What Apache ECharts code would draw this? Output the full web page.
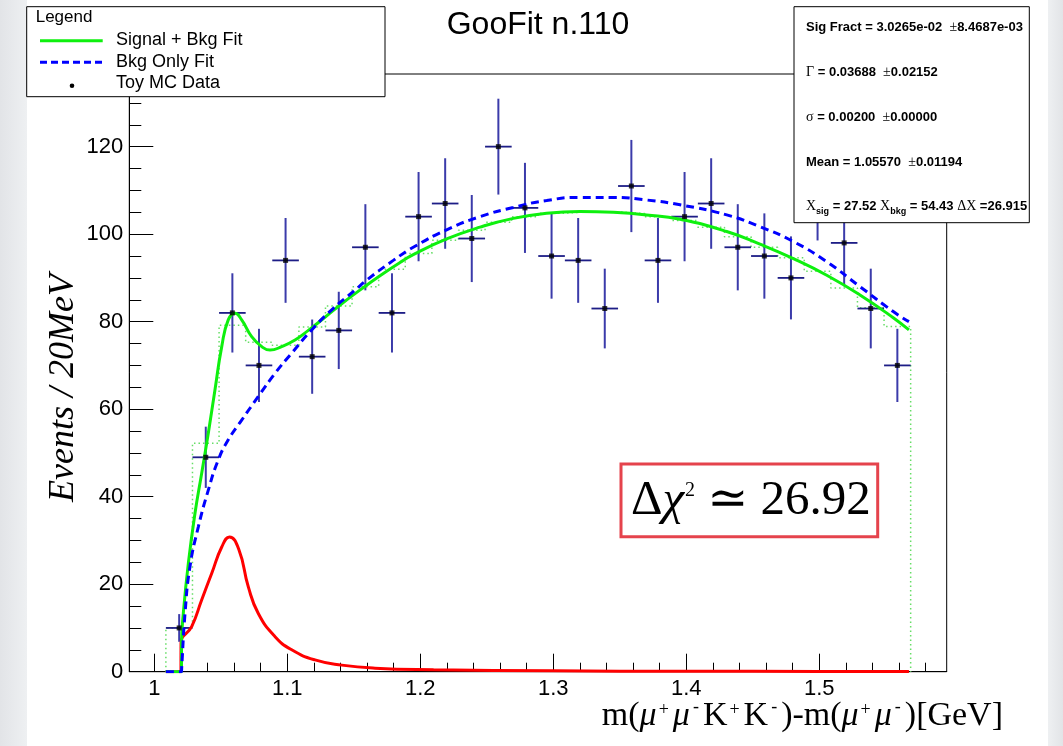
<!DOCTYPE html>
<html>
<head>
<meta charset="utf-8">
<script src="https://cdn.jsdelivr.net/npm/echarts@6/dist/echarts.min.js"></script>
<style>
  html, body { margin: 0; padding: 0; background: #fff; }
  #chart { width: 1063px; height: 746px; }
</style>
</head>
<body>
<div id="chart"></div>
<script>
// Toy MC sample: bin centres (GeV) and events per 20 MeV bin
const binCenters = [1.0187, 1.0387, 1.0587, 1.0787, 1.0987, 1.1187, 1.1387, 1.1587, 1.1787, 1.1987,
                    1.2187, 1.2387, 1.2587, 1.2787, 1.2987, 1.3187, 1.3387, 1.3587, 1.3787, 1.3987,
                    1.4187, 1.4387, 1.4587, 1.4787, 1.4987, 1.5187, 1.5387, 1.5587];
const counts = [10, 49, 82, 70, 94, 72, 78, 97, 82, 104, 107, 99, 120, 106, 95, 94, 83, 111, 94, 104,
                107, 97, 95, 90, 109, 98, 83, 70];
const binWidth = 0.02;

// signal + background fit integrated per bin (dotted histogram)
const fitHist = [10, 52.2, 79.2, 75.3, 74.6, 78.8, 83.6, 88, 92, 95.6, 98.6, 100.9, 102.7, 104,
                 104.8, 105.1, 105.1, 104.7, 104, 103.1, 101.6, 99.4, 97, 94.6, 91.5, 87.7, 83.2, 78.9];

// fitted curves, [mass (GeV), events / 20 MeV]
const sigBkgFit = [[1.0087, 0], [1.0204, 0], [1.0205, 6.6], [1.0218, 13.3], [1.0256, 24.8], [1.0306, 36.2],
  [1.0356, 45.3], [1.0406, 54.5], [1.0456, 64.4], [1.0507, 74.3], [1.0556, 80.4], [1.0607, 81.9],
  [1.0657, 80.4], [1.0732, 76.6], [1.0808, 74.3], [1.0870, 73.5], [1.0958, 74.3], [1.1058, 75.8],
  [1.1158, 78.0], [1.1283, 81.0], [1.1409, 84.1], [1.1559, 87.5], [1.1697, 90.5], [1.1847, 93.5],
  [1.1947, 95.3], [1.2198, 98.9], [1.2449, 101.6], [1.2699, 103.6], [1.2950, 104.8], [1.3201, 105.2],
  [1.3451, 105.0], [1.3702, 104.4], [1.3953, 103.4], [1.4304, 100.6], [1.4554, 97.7],
  [1.4805, 94.4], [1.5056, 90.6], [1.5306, 86.1], [1.5556, 80.9], [1.5674, 78.1]];

const bkgOnlyFit = [[1.0087, 0], [1.0204, 0], [1.0206, 1], [1.0231, 13.3], [1.0268, 24], [1.0331, 33.1],
  [1.0406, 41.5], [1.0481, 48.4], [1.0556, 53], [1.0657, 57.5], [1.0782, 62.9], [1.0908, 68.2],
  [1.1033, 72.8], [1.1183, 78.1], [1.1334, 82.7], [1.1509, 87.2], [1.1597, 89.5], [1.1797, 94.0],
  [1.1947, 97.0], [1.2198, 101], [1.2449, 104], [1.2699, 106.1], [1.2950, 107.7], [1.3201, 108.4],
  [1.3451, 108.4], [1.3702, 107.8], [1.3953, 106.7], [1.4304, 104.4], [1.4554, 101.7], [1.4805, 98.3],
  [1.5056, 93.7], [1.5306, 88], [1.5556, 82.3], [1.5674, 80]];

const signalOnly = [[1.0087, 0], [1.0200, 0], [1.0201, 6.6], [1.0281, 10.3], [1.0356, 16.4], [1.0432, 22.5],
  [1.0507, 28.5], [1.0565, 30.8], [1.0635, 28.0], [1.0707, 19.4], [1.0782, 13.3], [1.0908, 8],
  [1.1033, 5], [1.1208, 2.7], [1.1409, 1.5], [1.1659, 0.8], [1.21, 0.45], [1.3, 0.2], [1.4, 0.1],
  [1.5, 0.07], [1.5674, 0.05]];

// axis ranges and tick positions
const xRange = [0.9812, 1.5958];
const yRange = [0, 136.6];
const xMajorTicks = [1, 1.1, 1.2, 1.3, 1.4, 1.5];
const xMinorTicks = [1.02, 1.04, 1.06, 1.08, 1.12, 1.14, 1.16, 1.18, 1.22, 1.24, 1.26, 1.28,
                     1.32, 1.34, 1.36, 1.38, 1.42, 1.44, 1.46, 1.48, 1.52, 1.54, 1.56, 1.58];
const yMajorTicks = [0, 20, 40, 60, 80, 100, 120];
const yMinorTicks = [5, 10, 15, 25, 30, 35, 45, 50, 55, 65, 70, 75, 85, 90, 95, 105, 110, 115, 125, 130, 135];

const SANS = "'Liberation Sans', Arial, Helvetica, sans-serif";
const SERIF = "'Liberation Serif', 'Times New Roman', 'DejaVu Serif', serif";
const GREEN = '#0ef00e';
const BLUE = '#0000ff';
const RED = '#ff0000';

// step outline of the per-bin fit histogram
const histData = [[binCenters[0] - binWidth / 2, 0]];
fitHist.forEach((v, i) => histData.push([binCenters[i] - binWidth / 2, v]));
histData.push([binCenters[binCenters.length - 1] + binWidth / 2, 0]);

const pointData = counts.map((c, i) => [binCenters[i], c, Math.sqrt(c)]);

// lays out a run of differently styled text pieces (used for super/subscripts)
const measureCtx = document.createElement('canvas').getContext('2d');
function fontOf(s) {
  return `${s.fontStyle || 'normal'} ${s.fontWeight || 'normal'} ${s.fontSize}px ${s.fontFamily}`;
}
function textRun(pieces, x, y, align) {
  const widths = pieces.map(p => {
    measureCtx.font = fontOf(p.style);
    return measureCtx.measureText(p.text).width + (p.padL || 0) + (p.padR || 0);
  });
  const total = widths.reduce((a, b) => a + b, 0);
  let cx = align === 'right' ? x - total : x;
  return pieces.map((p, i) => {
    const el = { type: 'text', z: 101, x: cx + (p.padL || 0), y: y + (p.dy || 0),
      style: Object.assign({ text: p.text, fill: '#000', align: 'left', verticalAlign: 'middle' }, p.style) };
    cx += widths[i];
    return el;
  });
}

const chart = echarts.init(document.getElementById('chart'), null, { renderer: 'canvas' });

const baseAxisLabel = { fontSize: 22, fontFamily: SANS, color: '#000' };

const statsRich = {
  b: { fontFamily: SANS, fontWeight: 'bold', fontSize: 13, lineHeight: 18, fill: '#000' },
  g: { fontFamily: SERIF, fontSize: 14, lineHeight: 18, fill: '#000' },
  u: { fontFamily: SANS, fontWeight: 'bold', fontSize: 9, verticalAlign: 'bottom', fill: '#000' }
};
const statsLines = [
  '{b|Sig Fract = 3.0265e-02  }{g|±}{b|8.4687e-03}',
  '{g|Γ}{b| = 0.03688  }{g|±}{b|0.02152}',
  '{g|σ}{b| = 0.00200  }{g|±}{b|0.00000}',
  '{b|Mean = 1.05570  }{g|±}{b|0.01194}',
  '{g|X}{u|sig}{b| = 27.52 }{g|X}{u|bkg}{b| = 54.43 }{g|ΔX}{b| =26.915}'
];
const statsY = [27.7, 72.3, 117.3, 162.3, 206.7];

// x-axis title with superscript charges
const tNorm = { fontFamily: SERIF, fontSize: 34 };
const tItal = { fontFamily: SERIF, fontSize: 34, fontStyle: 'italic' };
const tSup = { fontFamily: SERIF, fontSize: 18 };
const plus = { text: '+', style: tSup, dy: -6, padL: 2, padR: 4 };
const minus = { text: '-', style: tSup, dy: -9, padL: 3, padR: 4 };
const xTitlePieces = [
  { text: 'm(', style: tNorm }, { text: 'μ', style: tItal }, plus, { text: 'μ', style: tItal }, minus,
  { text: 'K', style: tNorm }, plus, { text: 'K', style: tNorm }, minus,
  { text: ')-m(', style: tNorm }, { text: 'μ', style: tItal }, plus, { text: 'μ', style: tItal }, minus,
  { text: ')[GeV]', style: tNorm }
];

// delta chi-square label
const cNorm = { fontFamily: SERIF, fontSize: 49 };
const chiPieces = [
  { text: 'Δ', style: cNorm },
  { text: 'χ', style: { fontFamily: SERIF, fontSize: 49, fontStyle: 'italic' } },
  { text: '2', style: { fontFamily: SERIF, fontSize: 20 }, dy: -10, padL: 1 },
  { text: ' ≃ 26.92', style: cNorm }
];

const graphics = [
  // grey side margins
  { type: 'rect', z: 1, silent: true, shape: { x: 0, y: 0, width: 27, height: 746 },
    style: { fill: new echarts.graphic.LinearGradient(0, 0, 1, 0, [
      { offset: 0, color: '#e2e4e7' }, { offset: 1, color: '#eef0f2' }]) } },
  { type: 'rect', z: 1, silent: true, shape: { x: 1048, y: 0, width: 15, height: 746 },
    style: { fill: new echarts.graphic.LinearGradient(0, 0, 1, 0, [
      { offset: 0, color: '#eef0f2' }, { offset: 1, color: '#e2e4e7' }]) } },
  // title
  { type: 'text', z: 100, x: 538, y: 25,
    style: { text: 'GooFit n.110', fontFamily: SANS, fontSize: 32, fill: '#000', align: 'center', verticalAlign: 'middle' } },
  // legend box
  { type: 'rect', z: 100, shape: { x: 26.7, y: 6.7, width: 358.3, height: 90 },
    style: { fill: '#fff', stroke: '#000', lineWidth: 1 } },
  { type: 'text', z: 101, x: 35.7, y: 17.5,
    style: { text: 'Legend', fontFamily: SANS, fontSize: 17, fill: '#000', align: 'left', verticalAlign: 'middle' } },
  { type: 'line', z: 101, shape: { x1: 40, y1: 40.7, x2: 102.7, y2: 40.7 }, style: { stroke: GREEN, lineWidth: 3 } },
  { type: 'text', z: 101, x: 116, y: 40.5,
    style: { text: 'Signal + Bkg Fit', fontFamily: SANS, fontSize: 18, fill: '#000', align: 'left', verticalAlign: 'middle' } },
  { type: 'line', z: 101, shape: { x1: 40, y1: 62.3, x2: 102.7, y2: 62.3 },
    style: { stroke: BLUE, lineWidth: 3, lineDash: [7, 4] } },
  { type: 'text', z: 101, x: 116, y: 61.7,
    style: { text: 'Bkg Only Fit', fontFamily: SANS, fontSize: 18, fill: '#000', align: 'left', verticalAlign: 'middle' } },
  { type: 'circle', z: 101, shape: { cx: 72, cy: 85.7, r: 2.3 }, style: { fill: '#000' } },
  { type: 'text', z: 101, x: 116, y: 83.3,
    style: { text: 'Toy MC Data', fontFamily: SANS, fontSize: 18, fill: '#000', align: 'left', verticalAlign: 'middle' } },
  // fit statistics box
  { type: 'rect', z: 100, shape: { x: 794, y: 6.7, width: 235.3, height: 216 },
    style: { fill: '#fff', stroke: '#000', lineWidth: 1 } },
  ...statsLines.map((t, i) => ({ type: 'text', z: 101, x: 806, y: statsY[i],
    style: { text: t, rich: statsRich, align: 'left', verticalAlign: 'middle' } })),
  // delta chi-square annotation
  { type: 'rect', z: 100, shape: { x: 621, y: 464, width: 256.7, height: 72.7 },
    style: { fill: '#fff', stroke: '#e5434c', lineWidth: 3 } },
  ...textRun(chiPieces, 631, 501, 'left'),
  // axis titles
  ...textRun(xTitlePieces, 1003, 716, 'right'),
  { type: 'text', z: 101, x: 64, y: 388, rotation: Math.PI / 2,
    style: { text: 'Events / 20MeV', fontFamily: SERIF, fontStyle: 'italic', fontSize: 36, fill: '#000',
      align: 'center', verticalAlign: 'middle' } }
];

const option = {
  animation: false,
  backgroundColor: '#fff',
  grid: { left: 129.3, top: 74, right: 116.3, bottom: 74.3, show: true, borderColor: '#000', borderWidth: 1,
          backgroundColor: 'transparent', containLabel: false },
  xAxis: [
    { type: 'value', min: xRange[0], max: xRange[1], position: 'bottom',
      axisLine: { show: true, onZero: false, lineStyle: { color: '#000', width: 1 } },
      axisTick: { show: true, inside: true, length: 18, customValues: xMajorTicks, lineStyle: { color: '#000', width: 1 } },
      axisLabel: Object.assign({ customValues: xMajorTicks, margin: 6, formatter: v => String(v) }, baseAxisLabel),
      splitLine: { show: false } },
    { type: 'value', min: xRange[0], max: xRange[1], position: 'bottom',
      axisLine: { show: false },
      axisTick: { show: true, inside: true, length: 9, customValues: xMinorTicks, lineStyle: { color: '#000', width: 1 } },
      axisLabel: { show: false, customValues: xMinorTicks },
      splitLine: { show: false } }
  ],
  yAxis: [
    { type: 'value', min: yRange[0], max: yRange[1], position: 'left',
      axisLine: { show: true, onZero: false, lineStyle: { color: '#000', width: 1 } },
      axisTick: { show: true, inside: true, length: 24, customValues: yMajorTicks, lineStyle: { color: '#000', width: 1 } },
      axisLabel: Object.assign({ customValues: yMajorTicks, margin: 6, formatter: v => String(v) }, baseAxisLabel),
      splitLine: { show: false } },
    { type: 'value', min: yRange[0], max: yRange[1], position: 'left',
      axisLine: { show: false },
      axisTick: { show: true, inside: true, length: 12, customValues: yMinorTicks, lineStyle: { color: '#000', width: 1 } },
      axisLabel: { show: false, customValues: yMinorTicks },
      splitLine: { show: false } }
  ],
  series: [
    { name: 'Fit histogram', type: 'line', step: 'end', data: histData, symbol: 'none', z: 2,
      lineStyle: { color: '#66dd66', width: 1.5, type: [1.5, 3] } },
    { name: 'Toy MC Data errors', type: 'custom', z: 3, data: pointData, encode: { x: 0, y: 1 },
      renderItem: (params, api) => {
        const x = api.value(0), y = api.value(1), e = api.value(2);
        const l = api.coord([x - binWidth / 2, y]);
        const r = api.coord([x + binWidth / 2, y]);
        const t = api.coord([x, y + e]);
        const b = api.coord([x, y - e]);
        return { type: 'group', children: [
          { type: 'line', shape: { x1: t[0], y1: t[1], x2: b[0], y2: b[1] }, style: { stroke: '#3b3baa', lineWidth: 2 } },
          { type: 'line', shape: { x1: l[0], y1: l[1], x2: r[0], y2: r[1] }, style: { stroke: '#1d1d86', lineWidth: 1.8 } }
        ] };
      } },
    { name: 'Signal', type: 'line', data: signalOnly, symbol: 'none', z: 4, smooth: 0.5,
      lineStyle: { color: RED, width: 3 } },
    { name: 'Signal + Bkg Fit', type: 'line', data: sigBkgFit, symbol: 'none', z: 5, smooth: 0.5,
      lineStyle: { color: GREEN, width: 3 } },
    { name: 'Bkg Only Fit', type: 'line', data: bkgOnlyFit, symbol: 'none', z: 6, smooth: 0.5,
      lineStyle: { color: BLUE, width: 3, type: [8, 5] } },
    { name: 'Toy MC Data', type: 'scatter', data: pointData.map(p => [p[0], p[1]]), z: 7,
      symbol: 'rect', symbolSize: 5, itemStyle: { color: '#000' } }
  ],
  graphic: graphics
};

chart.setOption(option);
</script>
</body>
</html>
